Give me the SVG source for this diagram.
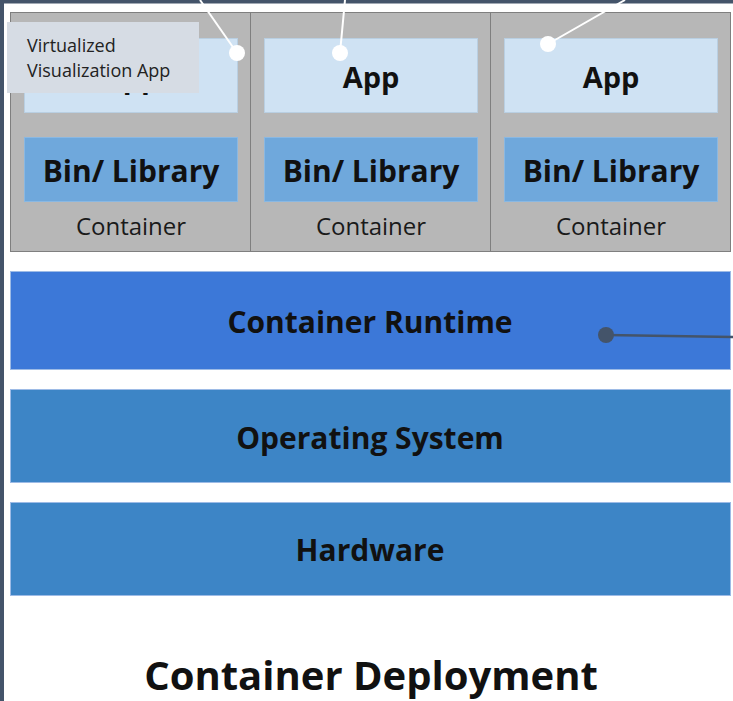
<svg xmlns="http://www.w3.org/2000/svg" width="733" height="701" viewBox="0 0 733 701">
<style>
.ctr{fill:#b7b7b7;stroke:#7f7f7f;stroke-width:1}
.app{fill:#cfe2f3;stroke:#b9cfe2;stroke-width:1}
.bin{fill:#6fa8dc;stroke:#8ab8e2;stroke-width:1}
.big{font-family:"Open Sans","DejaVu Sans",sans-serif;font-weight:bold;fill:#111;text-anchor:middle}
.lbl{font-family:"Open Sans","DejaVu Sans",sans-serif;font-size:24px;fill:#1a1a1a;text-anchor:middle}
.bar{stroke:#9dbbe6;stroke-width:1}
.pin{stroke:#fff;stroke-width:2;fill:none}
.tip{font-family:"Open Sans","DejaVu Sans",sans-serif;font-size:18px;fill:#222}
</style>
<rect x="0" y="0" width="733" height="701" fill="#fff"/>
<rect x="0" y="0" width="733" height="3.5" fill="#44546a"/>
<rect x="0" y="0" width="4" height="701" fill="#44546a"/>

<g id="container1">
<rect class="ctr" x="10.5" y="12.5" width="240" height="239"/>
<rect class="app" x="24.5" y="38.5" width="213" height="74"/>
<text class="big" x="131" y="88" font-size="29">App</text>
<rect class="bin" x="24.5" y="137.5" width="213" height="64"/>
<text class="big" x="131" y="182" font-size="30">Bin/ Library</text>
<text class="lbl" x="131" y="235">Container</text>
</g>
<g id="container2">
<rect class="ctr" x="250.5" y="12.5" width="240" height="239"/>
<rect class="app" x="264.5" y="38.5" width="213" height="74"/>
<text class="big" x="371" y="88" font-size="29">App</text>
<rect class="bin" x="264.5" y="137.5" width="213" height="64"/>
<text class="big" x="371" y="182" font-size="30">Bin/ Library</text>
<text class="lbl" x="371" y="235">Container</text>
</g>
<g id="container3">
<rect class="ctr" x="490.5" y="12.5" width="240" height="239"/>
<rect class="app" x="504.5" y="38.5" width="213" height="74"/>
<text class="big" x="611" y="88" font-size="29">App</text>
<rect class="bin" x="504.5" y="137.5" width="213" height="64"/>
<text class="big" x="611" y="182" font-size="30">Bin/ Library</text>
<text class="lbl" x="611" y="235">Container</text>
</g>

<g id="runtime">
<rect class="bar" x="10.5" y="271.5" width="720" height="98" fill="#3c78d8"/>
<text class="big" x="370" y="333" font-size="30">Container Runtime</text>
</g>
<g id="os">
<rect class="bar" x="10.5" y="389.5" width="720" height="93" fill="#3d85c6"/>
<text class="big" x="370" y="449" font-size="30">Operating System</text>
</g>
<g id="hardware">
<rect class="bar" x="10.5" y="502.5" width="720" height="93" fill="#3d85c6"/>
<text class="big" x="370" y="561" font-size="30">Hardware</text>
</g>

<g id="connectors">
<line class="pin" x1="200" y1="0" x2="237" y2="53"/>
<circle cx="237" cy="53" r="8" fill="#fff"/>
<line class="pin" x1="345" y1="0" x2="340" y2="53"/>
<circle cx="340" cy="53" r="8" fill="#fff"/>
<line class="pin" x1="625" y1="0" x2="548" y2="44"/>
<circle cx="548" cy="44" r="8" fill="#fff"/>
<line x1="606" y1="335" x2="733" y2="337" stroke="#44546a" stroke-width="2.5"/>
<circle cx="606" cy="335" r="8" fill="#44546a"/>
</g>

<g id="tooltip">
<rect x="7" y="22" width="192" height="71" fill="#d6dce4"/>
<text class="tip" x="27" y="52">Virtualized</text>
<text class="tip" x="27" y="77">Visualization App</text>
</g>

<g id="title">
<text class="big" x="371" y="690" font-size="40">Container Deployment</text>
</g>
</svg>
